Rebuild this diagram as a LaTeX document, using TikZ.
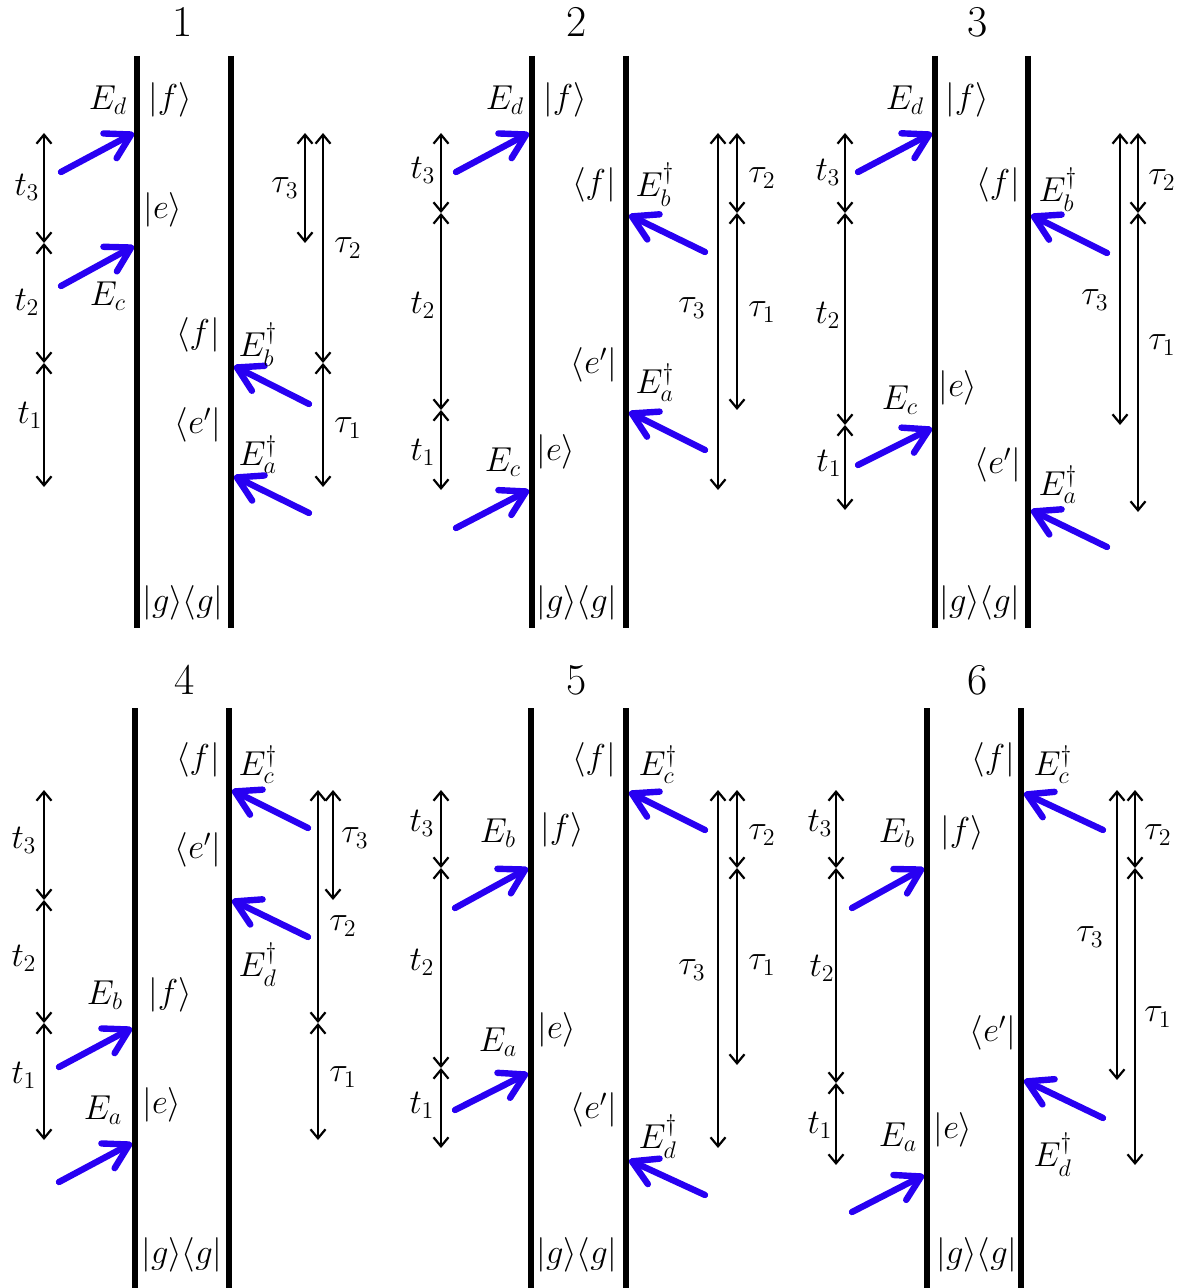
\documentclass[tikz,border=0pt]{standalone}
\usepackage{amsmath}
\usetikzlibrary{arrows.meta}

\definecolor{pulseblue}{RGB}{40,0,242}

\begin{document}
\begin{tikzpicture}[
  x=0.5pt, y=-0.5pt,
  font=\fontsize{18}{21}\selectfont,
  bar/.style={line width=3pt, draw=black},
  pulse/.style={-{Straight Barb[length=12pt, width=14pt, round]}, line width=3.2pt, draw=pulseblue, line cap=round},
  delay/.style={{Straight Barb[length=4.5pt, width=7.5pt]}-{Straight Barb[length=4.5pt, width=7.5pt]}, line width=1.1pt},
  lbl/.style={inner sep=1pt},
  paneltitle/.style={font=\fontsize{22}{26}\selectfont, inner sep=0pt}
]
\useasboundingbox (0,0) rectangle (1182,1288);

% ---- panel 1
\node[paneltitle] (title1) at (183,22) {1};
\draw[bar] (137,56) -- (137,628);
\draw[bar] (231,56) -- (231,628);
\coordinate (p1t3) at (44,133); \coordinate (p1t2) at (44,243);
\coordinate (p1t1) at (44,363); \coordinate (p1t0) at (44,487);
\draw[delay] (p1t3) -- (p1t2);
\draw[delay] (p1t2) -- (p1t1);
\draw[delay] (p1t1) -- (p1t0);
\node[lbl] (p1-t3) at (27,187) {$t_3$};
\node[lbl] (p1-t2) at (27,302) {$t_2$};
\node[lbl] (p1-t1) at (30,415) {$t_1$};
\coordinate (p1s3) at (305,133); \coordinate (p1s2) at (305,243);
\coordinate (p1r3) at (323,133); \coordinate (p1r1) at (323,363); \coordinate (p1r0) at (323,487);
\draw[delay] (p1s3) -- (p1s2);
\draw[delay] (p1r3) -- (p1r1);
\draw[delay] (p1r1) -- (p1r0);
\node[lbl] (p1-tau3) at (285,188) {$\tau_3$};
\node[lbl] (p1-tau2) at (348,248) {$\tau_2$};
\node[lbl] (p1-tau1) at (348,428) {$\tau_1$};
\coordinate (p1Ed0) at (61,172); \coordinate (p1Ed1) at (134,133);
\coordinate (p1Ec0) at (61,286); \coordinate (p1Ec1) at (134,246);
\coordinate (p1Eb0) at (309,404); \coordinate (p1Eb1) at (234,366);
\coordinate (p1Ea0) at (309,513); \coordinate (p1Ea1) at (234,476);
\draw[pulse] (p1Ed0) -- (p1Ed1);
\draw[pulse] (p1Ec0) -- (p1Ec1);
\draw[pulse] (p1Eb0) -- (p1Eb1);
\draw[pulse] (p1Ea0) -- (p1Ea1);
\node[lbl] (p1-Ed) at (108,100) {$E_d$};
\node[lbl] (p1-f) at (170,100) {$|f\rangle$};
\node[lbl] (p1-e) at (163,210) {$|e\rangle$};
\node[lbl] (p1-Ec) at (108,296) {$E_c$};
\node[lbl] (p1-bf) at (198,335) {$\langle f|$};
\node[lbl] (p1-Eb) at (258,345) {$E_b^\dagger$};
\node[lbl] (p1-be) at (198,425) {$\langle e'|$};
\node[lbl] (p1-Ea) at (258,455) {$E_a^\dagger$};
\node[lbl] (p1-g) at (183,603) {$|g\rangle\langle g|$};

% ---- panel 2
\node[paneltitle] (title2) at (577,22) {2};
\draw[bar] (532,56) -- (532,628);
\draw[bar] (626,56) -- (626,628);
\coordinate (p2t3) at (441,133); \coordinate (p2t2) at (441,213);
\coordinate (p2t1) at (441,410); \coordinate (p2t0) at (441,490);
\draw[delay] (p2t3) -- (p2t2);
\draw[delay] (p2t2) -- (p2t1);
\draw[delay] (p2t1) -- (p2t0);
\node[lbl] (p2-t3) at (423,170) {$t_3$};
\node[lbl] (p2-t2) at (423,305) {$t_2$};
\node[lbl] (p2-t1) at (423,452) {$t_1$};
\coordinate (p2s3) at (718,133); \coordinate (p2s0) at (718,490);
\coordinate (p2r3) at (737,133); \coordinate (p2r2) at (737,213); \coordinate (p2r1) at (737,410);
\draw[delay] (p2s3) -- (p2s0);
\draw[delay] (p2r3) -- (p2r2);
\draw[delay] (p2r2) -- (p2r1);
\node[lbl] (p2-tau3) at (692,308) {$\tau_3$};
\node[lbl] (p2-tau2) at (762,178) {$\tau_2$};
\node[lbl] (p2-tau1) at (762,312) {$\tau_1$};
\coordinate (p2Ed0) at (456,172); \coordinate (p2Ed1) at (529,133);
\coordinate (p2Ec0) at (456,528); \coordinate (p2Ec1) at (529,490);
\coordinate (p2Eb0) at (705,252); \coordinate (p2Eb1) at (629,215);
\coordinate (p2Ea0) at (705,450); \coordinate (p2Ea1) at (629,412);
\draw[pulse] (p2Ed0) -- (p2Ed1);
\draw[pulse] (p2Ec0) -- (p2Ec1);
\draw[pulse] (p2Eb0) -- (p2Eb1);
\draw[pulse] (p2Ea0) -- (p2Ea1);
\node[lbl] (p2-Ed) at (505,100) {$E_d$};
\node[lbl] (p2-f) at (565,100) {$|f\rangle$};
\node[lbl] (p2-bf) at (594,185) {$\langle f|$};
\node[lbl] (p2-Eb) at (655,185) {$E_b^\dagger$};
\node[lbl] (p2-be) at (594,365) {$\langle e'|$};
\node[lbl] (p2-Ea) at (655,383) {$E_a^\dagger$};
\node[lbl] (p2-Ec) at (503,462) {$E_c$};
\node[lbl] (p2-e) at (556,452) {$|e\rangle$};
\node[lbl] (p2-g) at (577,603) {$|g\rangle\langle g|$};

% ---- panel 3
\node[paneltitle] (title3) at (978,22) {3};
\draw[bar] (935,56) -- (935,628);
\draw[bar] (1028,56) -- (1028,628);
\coordinate (p3t3) at (845,133); \coordinate (p3t2) at (845,213);
\coordinate (p3t1) at (845,425); \coordinate (p3t0) at (845,510);
\draw[delay] (p3t3) -- (p3t2);
\draw[delay] (p3t2) -- (p3t1);
\draw[delay] (p3t1) -- (p3t0);
\node[lbl] (p3-t3) at (828,172) {$t_3$};
\node[lbl] (p3-t2) at (828,315) {$t_2$};
\node[lbl] (p3-t1) at (829,463) {$t_1$};
\coordinate (p3s3) at (1120,133); \coordinate (p3s0) at (1120,425);
\coordinate (p3r3) at (1138,133); \coordinate (p3r2) at (1138,213); \coordinate (p3r1) at (1138,512);
\draw[delay] (p3s3) -- (p3s0);
\draw[delay] (p3r3) -- (p3r2);
\draw[delay] (p3r2) -- (p3r1);
\node[lbl] (p3-tau3) at (1095,300) {$\tau_3$};
\node[lbl] (p3-tau2) at (1162,180) {$\tau_2$};
\node[lbl] (p3-tau1) at (1162,345) {$\tau_1$};
\coordinate (p3Ed0) at (858,172); \coordinate (p3Ed1) at (932,133);
\coordinate (p3Ec0) at (858,465); \coordinate (p3Ec1) at (932,428);
\coordinate (p3Eb0) at (1107,253); \coordinate (p3Eb1) at (1031,215);
\coordinate (p3Ea0) at (1107,547); \coordinate (p3Ea1) at (1031,510);
\draw[pulse] (p3Ed0) -- (p3Ed1);
\draw[pulse] (p3Ec0) -- (p3Ec1);
\draw[pulse] (p3Eb0) -- (p3Eb1);
\draw[pulse] (p3Ea0) -- (p3Ea1);
\node[lbl] (p3-Ed) at (905,100) {$E_d$};
\node[lbl] (p3-f) at (967,100) {$|f\rangle$};
\node[lbl] (p3-bf) at (998,185) {$\langle f|$};
\node[lbl] (p3-Eb) at (1058,190) {$E_b^\dagger$};
\node[lbl] (p3-Ec) at (900,400) {$E_c$};
\node[lbl] (p3-e) at (958,388) {$|e\rangle$};
\node[lbl] (p3-be) at (998,465) {$\langle e'|$};
\node[lbl] (p3-Ea) at (1058,485) {$E_a^\dagger$};
\node[lbl] (p3-g) at (980,603) {$|g\rangle\langle g|$};

% ---- panel 4
\node[paneltitle] (title4) at (185,680) {4};
\draw[bar] (135,708) -- (135,1288);
\draw[bar] (229,708) -- (229,1288);
\coordinate (p4t3) at (44,790); \coordinate (p4t2) at (44,900);
\coordinate (p4t1) at (44,1023); \coordinate (p4t0) at (44,1140);
\draw[delay] (p4t3) -- (p4t2);
\draw[delay] (p4t2) -- (p4t1);
\draw[delay] (p4t1) -- (p4t0);
\node[lbl] (p4-t3) at (24,840) {$t_3$};
\node[lbl] (p4-t2) at (24,958) {$t_2$};
\node[lbl] (p4-t1) at (24,1075) {$t_1$};
\coordinate (p4s3) at (333,790); \coordinate (p4s2) at (333,900);
\coordinate (p4r3) at (318,790); \coordinate (p4r1) at (318,1023); \coordinate (p4r0) at (318,1140);
\draw[delay] (p4s3) -- (p4s2);
\draw[delay] (p4r3) -- (p4r1);
\draw[delay] (p4r1) -- (p4r0);
\node[lbl] (p4-tau3) at (355,838) {$\tau_3$};
\node[lbl] (p4-tau2) at (343,926) {$\tau_2$};
\node[lbl] (p4-tau1) at (343,1077) {$\tau_1$};
\coordinate (p4Ec0) at (308,828); \coordinate (p4Ec1) at (232,790);
\coordinate (p4Ed0) at (308,937); \coordinate (p4Ed1) at (232,900);
\coordinate (p4Eb0) at (59,1067); \coordinate (p4Eb1) at (132,1028);
\coordinate (p4Ea0) at (59,1182); \coordinate (p4Ea1) at (132,1143);
\draw[pulse] (p4Ec0) -- (p4Ec1);
\draw[pulse] (p4Ed0) -- (p4Ed1);
\draw[pulse] (p4Eb0) -- (p4Eb1);
\draw[pulse] (p4Ea0) -- (p4Ea1);
\node[lbl] (p4-bf) at (198,760) {$\langle f|$};
\node[lbl] (p4-Ec) at (258,765) {$E_c^\dagger$};
\node[lbl] (p4-be) at (198,850) {$\langle e'|$};
\node[lbl] (p4-Ed) at (258,965) {$E_d^\dagger$};
\node[lbl] (p4-Eb) at (105,995) {$E_b$};
\node[lbl] (p4-f) at (170,995) {$|f\rangle$};
\node[lbl] (p4-Ea) at (103,1110) {$E_a$};
\node[lbl] (p4-e) at (162,1105) {$|e\rangle$};
\node[lbl] (p4-g) at (182,1255) {$|g\rangle\langle g|$};

% ---- panel 5
\node[paneltitle] (title5) at (577,680) {5};
\draw[bar] (531,708) -- (531,1288);
\draw[bar] (626,708) -- (626,1288);
\coordinate (p5t3) at (441,790); \coordinate (p5t2) at (441,868);
\coordinate (p5t1) at (441,1068); \coordinate (p5t0) at (441,1148);
\draw[delay] (p5t3) -- (p5t2);
\draw[delay] (p5t2) -- (p5t1);
\draw[delay] (p5t1) -- (p5t0);
\node[lbl] (p5-t3) at (422,823) {$t_3$};
\node[lbl] (p5-t2) at (422,962) {$t_2$};
\node[lbl] (p5-t1) at (422,1105) {$t_1$};
\coordinate (p5s3) at (718,790); \coordinate (p5s0) at (718,1148);
\coordinate (p5r3) at (737,790); \coordinate (p5r2) at (737,868); \coordinate (p5r1) at (737,1065);
\draw[delay] (p5s3) -- (p5s0);
\draw[delay] (p5r3) -- (p5r2);
\draw[delay] (p5r2) -- (p5r1);
\node[lbl] (p5-tau3) at (692,970) {$\tau_3$};
\node[lbl] (p5-tau2) at (762,835) {$\tau_2$};
\node[lbl] (p5-tau1) at (762,965) {$\tau_1$};
\coordinate (p5Ec0) at (705,830); \coordinate (p5Ec1) at (629,792);
\coordinate (p5Eb0) at (455,908); \coordinate (p5Eb1) at (528,868);
\coordinate (p5Ea0) at (455,1110); \coordinate (p5Ea1) at (528,1073);
\coordinate (p5Ed0) at (705,1195); \coordinate (p5Ed1) at (629,1160);
\draw[pulse] (p5Ec0) -- (p5Ec1);
\draw[pulse] (p5Eb0) -- (p5Eb1);
\draw[pulse] (p5Ea0) -- (p5Ea1);
\draw[pulse] (p5Ed0) -- (p5Ed1);
\node[lbl] (p5-bf) at (594,760) {$\langle f|$};
\node[lbl] (p5-Ec) at (658,765) {$E_c^\dagger$};
\node[lbl] (p5-Eb) at (498,833) {$E_b$};
\node[lbl] (p5-f) at (562,830) {$|f\rangle$};
\node[lbl] (p5-Ea) at (498,1042) {$E_a$};
\node[lbl] (p5-e) at (557,1030) {$|e\rangle$};
\node[lbl] (p5-be) at (594,1110) {$\langle e'|$};
\node[lbl] (p5-Ed) at (658,1137) {$E_d^\dagger$};
\node[lbl] (p5-g) at (577,1255) {$|g\rangle\langle g|$};

% ---- panel 6
\node[paneltitle] (title6) at (978,680) {6};
\draw[bar] (927,708) -- (927,1288);
\draw[bar] (1021,708) -- (1021,1288);
\coordinate (p6t3) at (836,790); \coordinate (p6t2) at (836,868);
\coordinate (p6t1) at (836,1083); \coordinate (p6t0) at (836,1165);
\draw[delay] (p6t3) -- (p6t2);
\draw[delay] (p6t2) -- (p6t1);
\draw[delay] (p6t1) -- (p6t0);
\node[lbl] (p6-t3) at (820,823) {$t_3$};
\node[lbl] (p6-t2) at (822,968) {$t_2$};
\node[lbl] (p6-t1) at (820,1125) {$t_1$};
\coordinate (p6s3) at (1117,790); \coordinate (p6s0) at (1117,1080);
\coordinate (p6r3) at (1135,790); \coordinate (p6r2) at (1135,868); \coordinate (p6r1) at (1135,1165);
\draw[delay] (p6s3) -- (p6s0);
\draw[delay] (p6r3) -- (p6r2);
\draw[delay] (p6r2) -- (p6r1);
\node[lbl] (p6-tau3) at (1090,937) {$\tau_3$};
\node[lbl] (p6-tau2) at (1158,835) {$\tau_2$};
\node[lbl] (p6-tau1) at (1158,1017) {$\tau_1$};
\coordinate (p6Ec0) at (1103,830); \coordinate (p6Ec1) at (1024,793);
\coordinate (p6Eb0) at (852,908); \coordinate (p6Eb1) at (924,868);
\coordinate (p6Ed0) at (1103,1118); \coordinate (p6Ed1) at (1024,1080);
\coordinate (p6Ea0) at (852,1212); \coordinate (p6Ea1) at (924,1175);
\draw[pulse] (p6Ec0) -- (p6Ec1);
\draw[pulse] (p6Eb0) -- (p6Eb1);
\draw[pulse] (p6Ed0) -- (p6Ed1);
\draw[pulse] (p6Ea0) -- (p6Ea1);
\node[lbl] (p6-bf) at (993,760) {$\langle f|$};
\node[lbl] (p6-Ec) at (1053,765) {$E_c^\dagger$};
\node[lbl] (p6-Eb) at (897,833) {$E_b$};
\node[lbl] (p6-f) at (962,833) {$|f\rangle$};
\node[lbl] (p6-be) at (993,1033) {$\langle e'|$};
\node[lbl] (p6-Ed) at (1053,1155) {$E_d^\dagger$};
\node[lbl] (p6-Ea) at (898,1137) {$E_a$};
\node[lbl] (p6-e) at (953,1130) {$|e\rangle$};
\node[lbl] (p6-g) at (977,1255) {$|g\rangle\langle g|$};

\end{tikzpicture}
\end{document}
